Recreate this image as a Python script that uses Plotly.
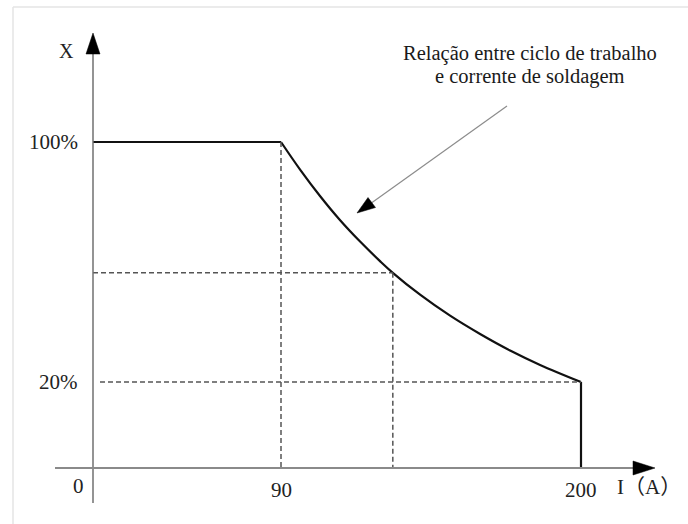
import plotly.graph_objects as go

# ---------------- data ----------------
current_a = [90, 97, 104.3, 111.6, 119, 126.3, 131, 141, 152, 163, 174, 185, 200]
duty_pct = [100, 90.8, 82, 74, 66.8, 60.3, 56.4, 49.1, 42.1, 36, 30.5, 25.7, 20]

x_ticks = [90, 200]
x_tick_text = ["90", "200"]
y_ticks = [100, 20]
y_tick_text = ["100%", "20%"]

marked_current = 131      # dashed guide point
marked_duty = 56.4

# ---------------- layout geometry ----------------
W, H = 688, 524
XR0 = 90 - 281 * 110 / 300
XR1 = XR0 + W * 110 / 300
YR1 = 100 + 142 / 3
YR0 = YR1 - H / 3


def px2x(px):
    return XR0 + px * (XR1 - XR0) / W


def py2y(py):
    return YR1 - py * (YR1 - YR0) / H


X_AXIS_AT = px2x(93)      # where the vertical axis is drawn
Y_AXIS_AT = py2y(468)     # where the horizontal axis is drawn

SERIF = "Liberation Serif, Times New Roman, serif"
fig = go.Figure()

curve_line = dict(color="#111111", width=2.2)
# flat part
fig.add_trace(go.Scatter(x=[X_AXIS_AT, current_a[0]], y=[duty_pct[0], duty_pct[0]],
                         mode="lines", line=curve_line, hoverinfo="skip", showlegend=False))
# curve
fig.add_trace(go.Scatter(x=current_a, y=duty_pct, mode="lines",
                         line=dict(curve_line, shape="spline", smoothing=1),
                         hoverinfo="skip", showlegend=False))
# vertical drop at max current
fig.add_trace(go.Scatter(x=[current_a[-1], current_a[-1]], y=[duty_pct[-1], Y_AXIS_AT],
                         mode="lines", line=curve_line, hoverinfo="skip", showlegend=False))

dash_style = dict(color="#555555", width=1.5, dash="5px,3px")
# dashed guides
fig.add_trace(go.Scatter(x=[current_a[0], current_a[0]], y=[duty_pct[0], Y_AXIS_AT],
                         mode="lines", line=dash_style, hoverinfo="skip", showlegend=False))
fig.add_trace(go.Scatter(x=[marked_current, marked_current], y=[marked_duty, Y_AXIS_AT],
                         mode="lines", line=dash_style, hoverinfo="skip", showlegend=False))
fig.add_trace(go.Scatter(x=[X_AXIS_AT, marked_current], y=[marked_duty, marked_duty],
                         mode="lines", line=dash_style, hoverinfo="skip", showlegend=False))
fig.add_trace(go.Scatter(x=[px2x(100), current_a[-1]], y=[duty_pct[-1], duty_pct[-1]],
                         mode="lines", line=dash_style, hoverinfo="skip", showlegend=False))

shapes = []
# frame
shapes.append(dict(type="line", xref="paper", yref="paper", x0=13 / W, x1=1, y0=1 - 7 / H, y1=1 - 7 / H,
                   line=dict(color="#e4e4e4", width=1.5)))
shapes.append(dict(type="line", xref="paper", yref="paper", x0=13 / W, x1=13 / W, y0=0, y1=1 - 7 / H,
                   line=dict(color="#e4e4e4", width=1.5)))
# axes
shapes.append(dict(type="line", xref="x", yref="y", x0=X_AXIS_AT, x1=X_AXIS_AT,
                   y0=py2y(503), y1=py2y(53), line=dict(color="#707070", width=1.5)))
shapes.append(dict(type="line", xref="x", yref="y", x0=px2x(55), x1=px2x(634),
                   y0=Y_AXIS_AT, y1=Y_AXIS_AT, line=dict(color="#8a8a8a", width=2)))


def tri(p):
    pts = [f"{px2x(a):.4f},{py2y(b):.4f}" for a, b in p]
    return "M" + " L".join(pts) + " Z"


shapes.append(dict(type="path", xref="x", yref="y", path=tri([(93, 33), (86, 54), (100, 54)]),
                   fillcolor="#000000", line=dict(color="#000000", width=0.5)))
shapes.append(dict(type="path", xref="x", yref="y", path=tri([(655, 468), (633, 461), (633, 475)]),
                   fillcolor="#000000", line=dict(color="#000000", width=0.5)))
# pointer arrow
shapes.append(dict(type="line", xref="x", yref="y", x0=px2x(507), y0=py2y(106), x1=px2x(370), y1=py2y(204),
                   line=dict(color="#8c8c8c", width=1.2)))
shapes.append(dict(type="path", xref="x", yref="y",
                   path=tri([(357, 213), (375.5, 207.5), (368, 197.5)]),
                   fillcolor="#000000", line=dict(color="#000000", width=0.5)))

ann = []
tick_font = dict(family=SERIF, size=21, color="#222222")
for v, t in zip(y_ticks, y_tick_text):
    ann.append(dict(x=px2x(80), y=v, xref="x", yref="y", text=t, showarrow=False,
                    xanchor="right", yanchor="middle", font=tick_font))
for v, t in zip(x_ticks, x_tick_text):
    ann.append(dict(x=v, y=py2y(490), xref="x", yref="y", text=t, showarrow=False,
                    xanchor="center", yanchor="middle", font=tick_font))
ann.append(dict(x=px2x(78), y=py2y(486), xref="x", yref="y", text="0", showarrow=False,
                xanchor="center", yanchor="middle", font=tick_font))
ann.append(dict(x=px2x(66.5), y=py2y(51), xref="x", yref="y", text="X", showarrow=False,
                xanchor="center", yanchor="middle", font=dict(family=SERIF, size=20, color="#222222")))
ann.append(dict(x=px2x(615), y=py2y(487), xref="x", yref="y", text="I（A）", showarrow=False,
                xanchor="left", yanchor="middle",
                font=dict(family=SERIF + ", Noto Sans CJK SC", size=21, color="#222222")))
title_font = dict(family=SERIF, size=20.5, color="#1a1a1a")
ann.append(dict(x=px2x(530), y=py2y(53), xref="x", yref="y", text="Relação entre ciclo de trabalho",
                showarrow=False, xanchor="center", yanchor="middle", font=title_font))
ann.append(dict(x=px2x(530), y=py2y(76.5), xref="x", yref="y", text="e corrente de soldagem",
                showarrow=False, xanchor="center", yanchor="middle", font=title_font))

fig.update_layout(
    width=W, height=H, margin=dict(l=0, r=0, t=0, b=0),
    paper_bgcolor="white", plot_bgcolor="white",
    xaxis=dict(range=[XR0, XR1], visible=False, fixedrange=True),
    yaxis=dict(range=[YR0, YR1], visible=False, fixedrange=True),
    shapes=shapes, annotations=ann, showlegend=False,
)

fig.write_html("out.html", config={"displayModeBar": False},
               post_script="document.body.style.margin='0';")
